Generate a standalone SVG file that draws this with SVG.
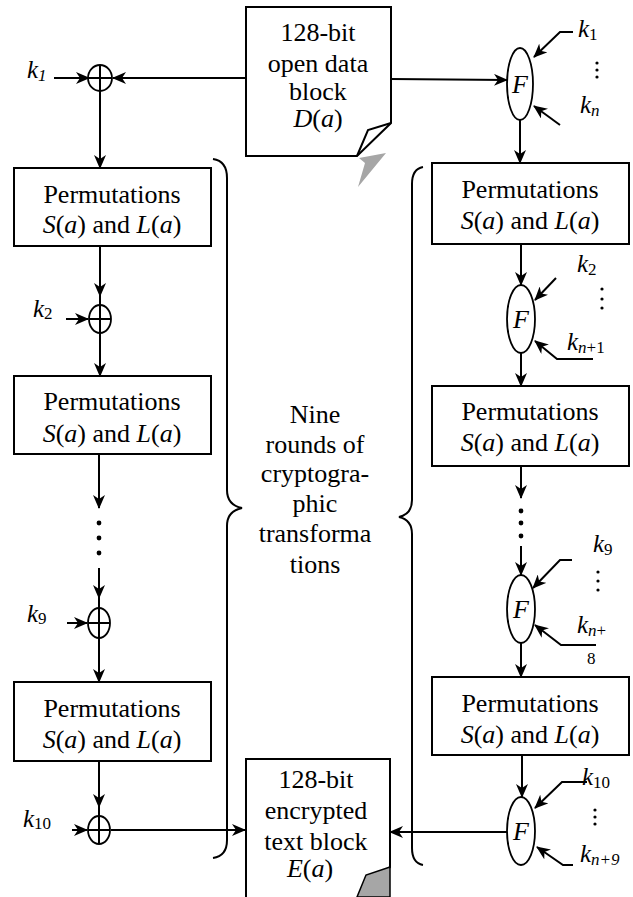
<svg xmlns="http://www.w3.org/2000/svg" width="633" height="897" viewBox="0 0 633 897">
<style>
.box{fill:#fff;stroke:#000;stroke-width:2}
.el{fill:#fff;stroke:#000;stroke-width:1.8}
.ln{fill:none;stroke:#000;stroke-width:2}
.ar{fill:none;stroke:#000;stroke-width:2;marker-end:url(#ah)}
.br{fill:none;stroke:#000;stroke-width:2}
</style>
<defs>
<marker id="ah" markerUnits="userSpaceOnUse" markerWidth="14" markerHeight="12" refX="13" refY="6" orient="auto">
<path d="M0,0 L14,6 L0,12 L4,6 z" fill="#000"/>
</marker>
</defs>

<g id="connectors">
<line class="ar" x1="54" y1="78" x2="89" y2="78"/>
<line class="ar" x1="246" y1="78" x2="113" y2="78"/>
<line class="ar" x1="100" y1="91" x2="100" y2="168"/>
<line class="ar" x1="100" y1="246" x2="100" y2="296"/>
<line class="ln" x1="100" y1="290" x2="100" y2="306"/>
<line class="ar" x1="66" y1="319" x2="88" y2="319"/>
<line class="ar" x1="100" y1="333" x2="100" y2="376"/>
<line class="ar" x1="99" y1="454" x2="99" y2="508"/>
<line class="ar" x1="99" y1="568" x2="99" y2="598"/>
<line class="ln" x1="99" y1="592" x2="99" y2="609"/>
<line class="ar" x1="67" y1="623" x2="87" y2="623"/>
<line class="ar" x1="99" y1="637" x2="99" y2="682"/>
<line class="ar" x1="99" y1="761" x2="99" y2="807"/>
<line class="ln" x1="99" y1="800" x2="99" y2="816"/>
<line class="ar" x1="72" y1="830" x2="87" y2="830"/>
<line class="ar" x1="111" y1="830" x2="245" y2="830"/>

<line class="ar" x1="391" y1="79" x2="507" y2="80"/>
<polyline class="ar" points="573,32 560,32 534,57"/>
<line class="ar" x1="560" y1="125" x2="534" y2="106"/>
<line class="ar" x1="520" y1="120" x2="520" y2="163"/>
<line class="ar" x1="521" y1="244" x2="521" y2="285"/>
<line class="ar" x1="556" y1="278" x2="535" y2="300"/>
<polyline class="ar" points="593,359 557,359 535,341"/>
<line class="ar" x1="521" y1="353" x2="521" y2="386"/>
<line class="ar" x1="521" y1="466" x2="521" y2="498"/>
<line class="ar" x1="521" y1="546" x2="521" y2="575"/>
<polyline class="ar" points="572,560 560,560 533,588"/>
<polyline class="ar" points="596,645 561,645 535,625"/>
<line class="ar" x1="521" y1="643" x2="521" y2="677"/>
<line class="ar" x1="522" y1="755" x2="522" y2="797"/>
<polyline class="ar" points="587,782 562,782 535,808"/>
<polyline class="ar" points="573,865 563,865 537,847"/>
<line class="ar" x1="508" y1="832" x2="390" y2="832"/>

<path class="br" d="M213,159 Q227,161 227,178 L227,490 Q227,505 242,508 Q227,511 227,526 L227,840 Q227,856 213,858"/>
<path class="br" d="M423,167 Q412,169 412,184 L412,500 Q412,514 399,517 Q412,520 412,534 L412,848 Q412,863 423,865"/>

<g fill="#000">
<circle cx="99" cy="523" r="2.4"/><circle cx="99" cy="538" r="2.4"/><circle cx="99" cy="553" r="2.4"/>
<circle cx="521" cy="511" r="2.4"/><circle cx="521" cy="523" r="2.4"/><circle cx="521" cy="536" r="2.4"/>
<circle cx="597" cy="63" r="1.6"/><circle cx="597" cy="70" r="1.6"/><circle cx="597" cy="77" r="1.6"/>
<circle cx="602" cy="289" r="1.6"/><circle cx="602" cy="299" r="1.6"/><circle cx="602" cy="308" r="1.6"/>
<circle cx="598" cy="572" r="1.6"/><circle cx="598" cy="581" r="1.6"/><circle cx="598" cy="590" r="1.6"/>
<circle cx="595" cy="810" r="1.6"/><circle cx="595" cy="817" r="1.6"/><circle cx="595" cy="824" r="1.6"/>
</g>
</g>

<g id="doc-open">
<path class="box" d="M246,7 H391 V123 L357,156 H246 Z"/>
<path class="ln" d="M391,123 L368,130 L357,156" stroke-width="1.8"/>
<polygon points="386,153 358,187 365,163 359,158" fill="#a6a6a6"/>
<text font-family="Liberation Serif" font-size="26" text-anchor="middle" x="318" y="41">128-bit</text>
<text font-family="Liberation Serif" font-size="26" text-anchor="middle" x="318" y="72">open data</text>
<text font-family="Liberation Serif" font-size="26" text-anchor="middle" x="318" y="100">block</text>
<text font-family="Liberation Serif" font-size="26" text-anchor="middle" x="318" y="127"><tspan font-style="italic">D</tspan>(<tspan font-style="italic">a</tspan>)</text>
</g>

<g id="doc-enc">
<path class="box" d="M246,900 V759 H390 V867 L361,900"/>
<path d="M390,867 L366,875 L357,897 L390,897 Z" fill="#a6a6a6" stroke="#000" stroke-width="1.5"/>
<text font-family="Liberation Serif" font-size="26" text-anchor="middle" x="316" y="788">128-bit</text>
<text font-family="Liberation Serif" font-size="26" text-anchor="middle" x="316" y="819">encrypted</text>
<text font-family="Liberation Serif" font-size="26" text-anchor="middle" x="316" y="850">text block</text>
<text font-family="Liberation Serif" font-size="26" text-anchor="middle" x="310" y="877"><tspan font-style="italic">E</tspan>(<tspan font-style="italic">a</tspan>)</text>
</g>

<g id="xor1"><ellipse class="el" cx="100" cy="78" rx="12" ry="13"/><path class="ln" d="M100,65 V91 M88,78 H112" stroke-width="1.5"/></g>
<g id="xor2"><ellipse class="el" cx="100" cy="319" rx="11" ry="14"/><path class="ln" d="M100,305 V333 M89,319 H111" stroke-width="1.5"/></g>
<g id="xor9"><ellipse class="el" cx="99" cy="623" rx="11" ry="15"/><path class="ln" d="M99,608 V638 M88,623 H110" stroke-width="1.5"/></g>
<g id="xor10"><ellipse class="el" cx="99" cy="830" rx="11" ry="14"/><path class="ln" d="M99,816 V844 M88,830 H110" stroke-width="1.5"/></g>

<g id="boxL1"><rect class="box" x="14" y="168" width="197" height="78"/>
<text font-family="Liberation Serif" font-size="26" text-anchor="middle" x="112" y="203">Permutations</text>
<text font-family="Liberation Serif" font-size="26" text-anchor="middle" x="112" y="233"><tspan font-style="italic">S</tspan>(<tspan font-style="italic">a</tspan>) and <tspan font-style="italic">L</tspan>(<tspan font-style="italic">a</tspan>)</text></g>
<g id="boxL2"><rect class="box" x="14" y="376" width="197" height="78"/>
<text font-family="Liberation Serif" font-size="26" text-anchor="middle" x="112" y="410">Permutations</text>
<text font-family="Liberation Serif" font-size="26" text-anchor="middle" x="112" y="442"><tspan font-style="italic">S</tspan>(<tspan font-style="italic">a</tspan>) and <tspan font-style="italic">L</tspan>(<tspan font-style="italic">a</tspan>)</text></g>
<g id="boxL4"><rect class="box" x="14" y="682" width="197" height="79"/>
<text font-family="Liberation Serif" font-size="26" text-anchor="middle" x="112" y="717">Permutations</text>
<text font-family="Liberation Serif" font-size="26" text-anchor="middle" x="112" y="748"><tspan font-style="italic">S</tspan>(<tspan font-style="italic">a</tspan>) and <tspan font-style="italic">L</tspan>(<tspan font-style="italic">a</tspan>)</text></g>

<g id="boxR1"><rect class="box" x="432" y="163" width="197" height="81"/>
<text font-family="Liberation Serif" font-size="26" text-anchor="middle" x="530" y="198">Permutations</text>
<text font-family="Liberation Serif" font-size="26" text-anchor="middle" x="530" y="229"><tspan font-style="italic">S</tspan>(<tspan font-style="italic">a</tspan>) and <tspan font-style="italic">L</tspan>(<tspan font-style="italic">a</tspan>)</text></g>
<g id="boxR2"><rect class="box" x="432" y="386" width="197" height="80"/>
<text font-family="Liberation Serif" font-size="26" text-anchor="middle" x="530" y="420">Permutations</text>
<text font-family="Liberation Serif" font-size="26" text-anchor="middle" x="530" y="451"><tspan font-style="italic">S</tspan>(<tspan font-style="italic">a</tspan>) and <tspan font-style="italic">L</tspan>(<tspan font-style="italic">a</tspan>)</text></g>
<g id="boxR3"><rect class="box" x="432" y="677" width="197" height="78"/>
<text font-family="Liberation Serif" font-size="26" text-anchor="middle" x="530" y="712">Permutations</text>
<text font-family="Liberation Serif" font-size="26" text-anchor="middle" x="530" y="743"><tspan font-style="italic">S</tspan>(<tspan font-style="italic">a</tspan>) and <tspan font-style="italic">L</tspan>(<tspan font-style="italic">a</tspan>)</text></g>

<g id="F1"><ellipse class="el" cx="520" cy="84" rx="13" ry="36"/><text font-family="Liberation Serif" font-size="26" font-style="italic" text-anchor="middle" x="520" y="93">F</text></g>
<g id="F2"><ellipse class="el" cx="521" cy="319" rx="14" ry="34"/><text font-family="Liberation Serif" font-size="26" font-style="italic" text-anchor="middle" x="521" y="328">F</text></g>
<g id="F3"><ellipse class="el" cx="521" cy="609" rx="14" ry="34"/><text font-family="Liberation Serif" font-size="26" font-style="italic" text-anchor="middle" x="521" y="618">F</text></g>
<g id="F4"><ellipse class="el" cx="521" cy="831" rx="14" ry="34"/><text font-family="Liberation Serif" font-size="26" font-style="italic" text-anchor="middle" x="521" y="840">F</text></g>

<g id="labels">
<text font-family="Liberation Serif" font-size="25" font-style="italic" x="27" y="78">k<tspan font-size="17" dy="3">1</tspan></text>
<text font-family="Liberation Serif" font-size="25" font-style="italic" x="33" y="317">k<tspan font-size="17" font-style="normal" dy="2">2</tspan></text>
<text font-family="Liberation Serif" font-size="25" font-style="italic" x="27" y="622">k<tspan font-size="17" font-style="normal" dy="2">9</tspan></text>
<text font-family="Liberation Serif" font-size="25" font-style="italic" x="23" y="827">k<tspan font-size="17" font-style="normal" dy="2">10</tspan></text>
<text font-family="Liberation Serif" font-size="25" font-style="italic" x="578" y="37">k<tspan font-size="17" font-style="normal" dy="3">1</tspan></text>
<text font-family="Liberation Serif" font-size="25" font-style="italic" x="580" y="113">k<tspan font-size="17" dy="3">n</tspan></text>
<text font-family="Liberation Serif" font-size="25" font-style="italic" x="577" y="272">k<tspan font-size="17" font-style="normal" dy="3">2</tspan></text>
<text font-family="Liberation Serif" font-size="25" font-style="italic" x="567" y="350">k<tspan font-size="17" dy="3">n</tspan><tspan font-size="17" font-style="normal">+1</tspan></text>
<text font-family="Liberation Serif" font-size="25" font-style="italic" x="593" y="552">k<tspan font-size="17" font-style="normal" dy="3">9</tspan></text>
<text font-family="Liberation Serif" font-size="25" font-style="italic" x="577" y="633">k<tspan font-size="17" dy="3">n</tspan><tspan font-size="17" font-style="normal">+</tspan></text>
<text font-family="Liberation Serif" font-size="17" x="587" y="664">8</text>
<text font-family="Liberation Serif" font-size="25" font-style="italic" x="582" y="785">k<tspan font-size="17" font-style="normal" dy="3">10</tspan></text>
<text font-family="Liberation Serif" font-size="25" font-style="italic" x="580" y="862">k<tspan font-size="17" dy="3">n+9</tspan></text>
</g>

<g id="rounds-label">
<text font-family="Liberation Serif" font-size="26" text-anchor="middle" x="315" y="423">Nine</text>
<text font-family="Liberation Serif" font-size="26" text-anchor="middle" x="315" y="453">rounds of</text>
<text font-family="Liberation Serif" font-size="26" text-anchor="middle" x="315" y="482">cryptogra-</text>
<text font-family="Liberation Serif" font-size="26" text-anchor="middle" x="315" y="512">phic</text>
<text font-family="Liberation Serif" font-size="26" text-anchor="middle" x="315" y="542">transforma</text>
<text font-family="Liberation Serif" font-size="26" text-anchor="middle" x="315" y="573">tions</text>
</g>
</svg>
